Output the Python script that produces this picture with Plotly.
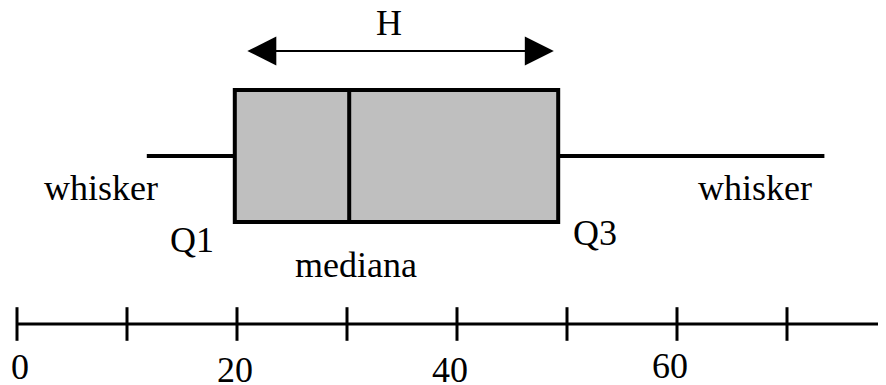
import plotly.graph_objects as go

# box plot statistics (axis units)
lower_whisker = 11.8
q1 = 19.8
median = 30.2
q3 = 49.2
upper_whisker = 73.4

# number line
tick_values = [0, 10, 20, 30, 40, 50, 60, 70]
label_values = [0, 20, 40, 60]
label_texts = ["0", "20", "40", "60"]
axis_end = 78.9

# "H" arrow spans this stretch
arrow_from = 20.8
arrow_to = 48.8

# annotations: text, x (axis units), baseline row in the picture
notes = [
    ("H", 33.8, 35),
    ("whisker", 7.6, 200),
    ("whisker", 67.1, 200),
    ("Q1", 15.9, 252),
    ("Q3", 52.5, 245),
    ("mediana", 30.8, 277),
]

# the page body has an 8px margin, so the figure is drawn 8px smaller
# and everything is placed 8px up/left of where it sits in the picture
PAD = 8
W, H = 886 - PAD, 385 - PAD
PX = 11.0          # pixels per unit on the number line
X0 = 17 - PAD      # pixel column of 0
SIZE = 36
FONT = dict(family="Liberation Serif, Times New Roman, serif", size=SIZE, color="black")
MID = 0.338 * SIZE  # baseline sits this far below the text box centre

box_y = 156 - PAD
axis_y = 324 - PAD
arrow_y = 51 - PAD
label_shift = [3, -2, -7, -7]
label_base = [379, 382, 382, 378]

fig = go.Figure()

fig.add_trace(go.Box(
    y=[box_y], q1=[q1], median=[median], q3=[q3],
    lowerfence=[lower_whisker], upperfence=[upper_whisker],
    orientation="h", width=132, whiskerwidth=0, boxpoints=False,
    fillcolor="#bfbfbf", line=dict(color="black", width=4),
    hoverinfo="skip", showlegend=False,
))

# axis line and the ticks crossing it
fig.add_trace(go.Scatter(
    x=[0, axis_end], y=[axis_y, axis_y], mode="lines",
    line=dict(color="black", width=3), hoverinfo="skip", showlegend=False,
))
fig.add_trace(go.Scatter(
    x=tick_values, y=[axis_y] * len(tick_values), mode="markers",
    marker=dict(symbol="line-ns", size=24, line=dict(color="black", width=3)),
    hoverinfo="skip", showlegend=False,
))

for text, x, base in notes:
    fig.add_annotation(x=x, y=base - PAD - MID, text=text, showarrow=False, font=FONT,
                       xanchor="center", yanchor="middle")

for v, t, dx, base in zip(label_values, label_texts, label_shift, label_base):
    fig.add_annotation(x=v, y=base - PAD - MID, text=t, showarrow=False, font=FONT,
                       xanchor="center", yanchor="middle", xshift=dx)

fig.add_annotation(
    x=arrow_to, y=arrow_y, ax=arrow_from, ay=arrow_y,
    xref="x", yref="y", axref="x", ayref="y", text="",
    showarrow=True, arrowside="end+start",
    arrowhead=2, startarrowhead=2, arrowsize=2.9, startarrowsize=2.9,
    arrowwidth=2, arrowcolor="black",
)

fig.update_layout(
    width=W, height=H,
    margin=dict(l=0, r=0, t=0, b=0),
    paper_bgcolor="white", plot_bgcolor="white",
    xaxis=dict(range=[-X0 / PX, (W - X0) / PX], visible=False, fixedrange=True),
    yaxis=dict(range=[H, 0], visible=False, fixedrange=True),
)

fig.write_html("out.html")
